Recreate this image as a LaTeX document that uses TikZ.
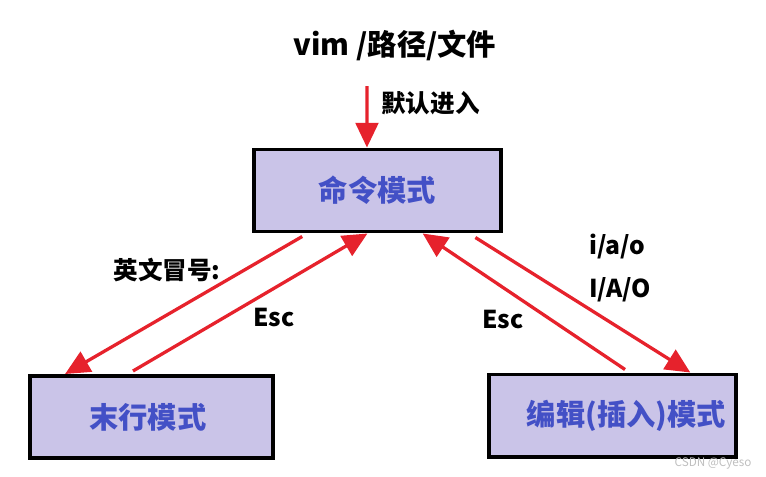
\documentclass[tikz,border=0pt]{standalone}
\usepackage{fontspec}
\setmainfont{Noto Sans CJK SC}
\usetikzlibrary{arrows.meta, positioning, calc}

\definecolor{boxfill}{HTML}{CAC4E8}
\definecolor{boxtext}{HTML}{4350C6}
\definecolor{arrred}{HTML}{E6222C}

\begin{document}
\begin{tikzpicture}[
    x=0.03cm, y=-0.03cm,
    font=\bfseries,
    mode/.style={draw=black, line width=3.4pt, fill=boxfill, text=boxtext,
        minimum height=82*0.03cm, inner sep=0pt, font=\bfseries\fontsize{25}{30}\selectfont},
    lbl/.style={font=\bfseries\fontsize{21}{25}\selectfont, inner sep=0pt},
    arrow/.style={arrred, line width=2.8pt, -{Triangle[length=0.74cm, width=0.68cm]}}
]
    \useasboundingbox (0,0) rectangle (766,476);

    % --- 节点定义 ---
    \node [font=\bfseries\fontsize{25}{30}\selectfont] (title) at (395,45) {vim /路径/文件};
    \coordinate (start) at (367,86);

    \node [mode, minimum width=247*0.03cm] (cmd) at (377.5,190.5) {命令模式};
    \node [mode, minimum width=243*0.03cm] (last) at (151.5,417) {\hspace*{-6pt}末行模式};
    \node [mode, minimum width=247*0.03cm] (edit) at (612.5,415.5) {\hspace*{24pt}编辑(插入)模式};

    % 标签
    \node [lbl, anchor=west] (enter) at (381,103) {默认进入};
    \node [lbl] (colon) at (167,270) {英文冒号:};
    \node [lbl] (esc1) at (274,318) {Esc};
    \node [lbl] (esc2) at (503,320) {Esc};
    \node [lbl, anchor=west] (ins1) at (589,247) {i/a/o};
    \node [lbl, anchor=west] (ins2) at (589,290) {I/A/O};
    \node [font=\fontsize{10}{12}\selectfont, text=black!25, inner sep=0pt] (mark) at (713,463) {CSDN @Cyeso};

    % --- 连线逻辑 ---
    \draw [arrow] (start) -- ($(cmd.north west)!0.458!(cmd.north east)$);

    % 命令模式 <-> 末行模式
    \draw [arrow] ($(cmd.south west)!0.2!(cmd.south east)+(0,3)$) -- ($(last.north west)!0.15!(last.north east)$);
    \draw [arrow] ($(last.north west)!0.425!(last.north east)+(0,-3)$) -- ($(cmd.south west)!0.46!(cmd.south east)$);

    % 命令模式 <-> 编辑模式
    \draw [arrow] ($(cmd.south west)!0.89!(cmd.south east)+(0,4)$) -- ($(edit.north west)!0.81!(edit.north east)$);
    \draw [arrow] ($(edit.north west)!0.55!(edit.north east)+(0,-3)$) -- ($(cmd.south west)!0.68!(cmd.south east)$);

\end{tikzpicture}
\end{document}
